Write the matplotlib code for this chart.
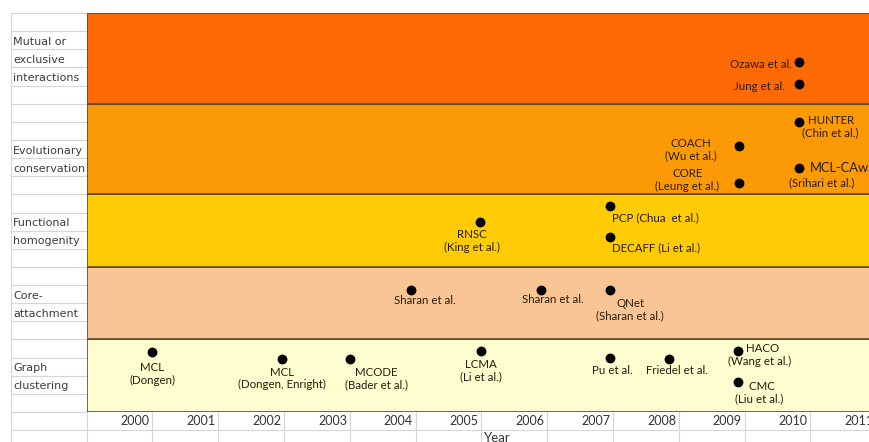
import matplotlib
matplotlib.use("Agg")
import matplotlib.pyplot as plt

# ---------------- data ----------------
categories = ["Graph clustering", "Core-attachment", "Functional homogenity",
              "Evolutionary conservation", "Mutual or exclusive interactions"]
category_lines = [["Graph", "clustering"], ["Core-", "attachment"],
                  ["Functional", "homogenity"], ["Evolutionary", "conservation"],
                  ["Mutual or", "exclusive", "interactions"]]
band_bottoms = [0, 4, 8, 12, 17]
band_tops = [4, 8, 12, 17, 22]
years = list(range(2000, 2012))

graph_labels = ["MCL\n(Dongen)", "MCL\n(Dongen, Enright)", "MCODE\n(Bader et al.)",
                "LCMA\n(Li et al.)", "Pu et al.", "Friedel et al.",
                "  HACO\n(Wang et al.)", "  CMC\n(Liu et al.)"]
graph_x = [2000.50, 2002.47, 2003.50, 2005.50, 2007.46, 2008.35, 2009.40, 2009.40]
graph_y = [3.31, 2.92, 2.92, 3.36, 2.98, 2.92, 3.36, 1.65]

core_labels = ["Sharan et al.", "Sharan et al.", "QNet\n(Sharan et al.)"]
core_x = [2004.43, 2006.41, 2007.46]
core_y = [6.73, 6.73, 6.73]

func_labels = ["RNSC\n(King et al.)", "PCP (Chua  et al.)", "DECAFF (Li et al.)"]
func_x = [2005.48, 2007.46, 2007.46]
func_y = [10.48, 11.36, 9.65]

evo_labels = ["COACH\n(Wu et al.)", "CORE\n(Leung et al.)", " HUNTER\n(Chin et al.)",
              "(Srihari et al.)"]
evo_x = [2009.42, 2009.42, 2010.33, 2010.33]
evo_y = [14.67, 12.63, 15.99, 13.45]

mutual_labels = ["Ozawa et al.", "Jung et al."]
mutual_x = [2010.33, 2010.33]
mutual_y = [19.30, 18.09]

# ---------------- layout / style ----------------
W, H = 869, 442
COL_W = 65.8
PLOT_L, PLOT_T, PLOT_B = 86.5, 13.0, 412.0
N_ROWS = 22
ROW_H = (PLOT_B - PLOT_T) / N_ROWS
band_colors = ["#FEFDCF", "#FAC594", "#FECB05", "#FC9A06", "#FD6A04"]
edge_col = "#5e4a2e"
text_col = "#2a1c0c"
label_font = ["Lato", "DejaVu Sans"]
LFS = 8.3

# offsets (pixels) and alignment for each label, in same order as labels
graph_off = [(0, -22, "center"), (0, -19.5, "center"), (27, -19.5, "center"),
             (0, -19.5, "center"), (2, -13, "center"), (8, -11, "center"),
             (22, -4, "center"), (21, -10.5, "center")]
core_off = [(14, -11, "center"), (12, -10, "center"), (20, -19.5, "center")]
func_off = [(-8, -19, "center"), (45, -12, "center"), (46, -11, "center")]
evo_off = [(-48, -4, "center"), (-52, 3, "center"), (31, -4.5, "center"),
           (23, -15, "center")]
mutual_off = [(-7, -3, "right"), (-14, -3, "right")]

fig = plt.figure(figsize=(W / 100, H / 100), dpi=100)
fig.patch.set_facecolor("white")

# spreadsheet background grid (pixel coordinates)
sheet = fig.add_axes([0, 0, 1, 1], zorder=0)
sheet.set_xlim(0, W)
sheet.set_ylim(H, 0)
sheet.axis("off")
grid_col = "#d6d6d6"
LEFT_X = 10.5
for k in range(N_ROWS + 3):
    yy = PLOT_T + k * ROW_H
    if yy <= PLOT_B + 1:
        sheet.plot([LEFT_X, PLOT_L], [yy, yy], color=grid_col, lw=0.8)
    else:
        sheet.plot([LEFT_X, W], [yy, yy], color=grid_col, lw=0.8)
sheet.plot([LEFT_X, LEFT_X], [PLOT_T, H], color=grid_col, lw=0.8)
for k in range(0, 14):
    xx = PLOT_L + k * COL_W
    sheet.plot([xx, xx], [PLOT_B, H], color=grid_col, lw=0.8)

# category labels in left column
start_rows = [19, 15, 11, 7, 1]  # rows counted from top
for lines, r0 in zip(category_lines, start_rows):
    for j, line in enumerate(lines):
        yy = PLOT_T + (r0 + j + 0.5) * ROW_H + 1.5
        sheet.text(13, yy, line, fontsize=8.0, family="DejaVu Sans",
                   color="#3c3c3c", ha="left", va="center")

# ---------------- chart ----------------
ax = fig.add_axes([PLOT_L / W, (H - PLOT_B) / H, 14 * COL_W / W,
                   (PLOT_B - PLOT_T) / H], zorder=2)
ax.set_xlim(1999.5, 2013.5)
ax.set_ylim(0, N_ROWS)
ax.axis("off")

for b, t, c in zip(band_bottoms, band_tops, band_colors):
    ax.axhspan(b, t, facecolor=c, edgecolor=edge_col, lw=1.2, zorder=1)

groups = [(graph_x, graph_y, graph_labels, graph_off),
          (core_x, core_y, core_labels, core_off),
          (func_x, func_y, func_labels, func_off),
          (evo_x, evo_y, evo_labels, evo_off),
          (mutual_x, mutual_y, mutual_labels, mutual_off)]

for xs, ys, labs, offs in groups:
    ax.scatter(xs, ys, s=50, color="black", zorder=5, linewidths=0)
    for x, y, lab, (dx, dy, ha) in zip(xs, ys, labs, offs):
        ax.annotate(lab, (x, y), xytext=(dx, dy), textcoords="offset pixels",
                    ha=ha, va="center", fontsize=LFS, family=label_font,
                    color=text_col, linespacing=1.15, zorder=6,
                    annotation_clip=False)

# MCL-CAw name (slightly larger in the source)
ax.annotate("MCL-CAw", (evo_x[3], evo_y[3]), xytext=(11, 0),
            textcoords="offset pixels", ha="left", va="center", fontsize=9.3,
            family=label_font, color=text_col, zorder=6, annotation_clip=False)

# year row
for yr in years:
    ax.text(yr + 0.46, -0.5, str(yr), ha="right", va="center", fontsize=9,
            family=label_font, color="#333333", clip_on=False)

fig.text(497 / W, 1 - 438 / H, "Year", ha="center", va="center", fontsize=9.5,
         family=label_font, color="#333333")

fig.savefig("out.png", dpi=100)
